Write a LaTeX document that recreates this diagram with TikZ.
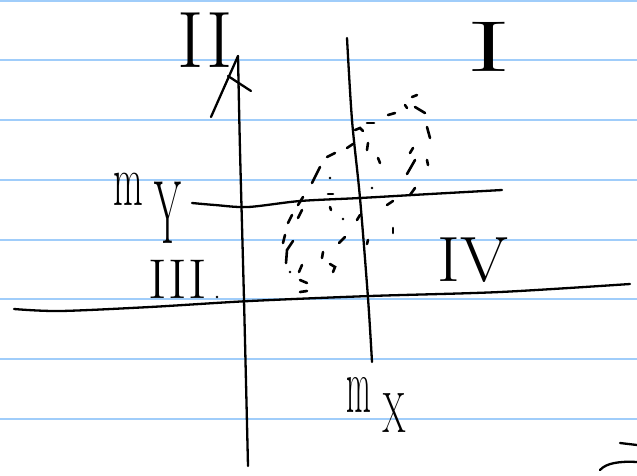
\documentclass[tikz,border=0pt]{standalone}
\usepackage{graphicx}
\definecolor{ruleblue}{RGB}{160,205,250}
\begin{document}
\begin{tikzpicture}[x=1pt,y=-1pt,
  ruling/.style={ruleblue,line width=1.4pt},
  ink/.style={black,line width=2.3pt,line cap=round,line join=round},
  dot/.style={black,line width=2.6pt,line cap=round},
  lbl/.style={inner sep=0pt,outer sep=0pt,text=black}]
\useasboundingbox (0,0) rectangle (637,475);
\fill[white] (0,0) rectangle (637,475);
% ruled paper
\foreach \yy in {1,60,120,180,240,299,359,419}
  \draw[ruling] (0,\yy) -- (637,\yy);
% vertical axis with arrow
\coordinate (vbot) at (248,466);
\coordinate (vtop) at (238,56);
\draw[ink] plot[smooth] coordinates {(vbot) (244,300) (240,150) (vtop)};
\coordinate (al) at (211,117);
\coordinate (ar1) at (228,76);
\coordinate (ar2) at (251,91);
\draw[ink] (al) -- (vtop);
\draw[ink] (ar1) -- (ar2);
% horizontal axis
\draw[ink] plot[smooth] coordinates {(14,309) (60,311) (150,307) (250,301) (370,296) (500,292) (630,284)};
% line mY
\draw[ink] plot[smooth] coordinates {(192,203) (215,205) (248,207) (300,201) (360,198) (430,194) (502,190)};
% line mx
\draw[ink] plot[smooth] coordinates {(347,38) (352,120) (360,198) (368,298) (372,362)};
% dashed blob
\foreach \ax/\ay/\bx/\by in {
 412/97/417/95, 405/105/407/108, 415/107/425/113, 388/115/395/113,
 427/127/430/138, 367/123/374/123, 368/143/367/150, 413/148/410/153,
 347/148/353/144, 335/153/327/157, 378/158/380/163, 415/160/407/174,
 427/160/428/165, 320/167/312/183, 415/188/410/195, 328/194/333/194,
 303/197/298/205, 393/201/387/205, 330/207/331/210, 302/210/298/218,
 292/215/288/223, 360/215/357/220, 393/228/393/233, 285/235/283/243,
 345/237/339/243, 368/240/367/244, 323/252/322/258, 302/265/299/272,
 300/280/307/283, 300/292/307/291}
{\draw[dot] (\ax,\ay) -- (\bx,\by);}
\draw[dot] (355,130) -- (360,128) -- (363,131);
\draw[dot] (293,241) -- (287,250) -- (286,263);
\draw[dot] (330,264) -- (335,267) -- (333,272);
\foreach \p in {(330,178),(372,188),(343,219),(290,272)}
  \fill \p circle (1.4pt);
% roman numerals
\node[lbl,font=\fontsize{80}{80}\selectfont] (q2) at (205,40) {II};
\node[lbl,font=\fontsize{72}{72}\selectfont] (q1) at (489,47) {\scalebox{1.9}[1]{I}};
\node[lbl,font=\fontsize{56}{56}\selectfont] (q3) at (178,279) {III};
\fill (217,297) circle (1.3pt);
\node[lbl,font=\fontsize{64}{64}\selectfont] (q4) at (473,260) {\scalebox{1.08}[1]{IV}};
% axis labels
\node[lbl,anchor=base west] (my) at (113,205)
  {\fontsize{74}{74}\selectfont\scalebox{0.52}[1]{m}\hspace{12pt}\raisebox{-38pt}{\fontsize{90}{90}\selectfont\scalebox{0.43}[1]{Y}}};
\node[lbl,anchor=base west] (mx) at (346,412)
  {\fontsize{80}{80}\selectfont\scalebox{0.4}[1]{m}\hspace{12pt}\raisebox{-20pt}{\fontsize{57}{57}\selectfont\scalebox{0.6}[1]{X}}};
% corner mark
\draw[ink] (620,443) -- (637,445);
\draw[ink] (600,470) .. controls (606,463) and (620,461) .. (637,462);
\end{tikzpicture}
\end{document}
